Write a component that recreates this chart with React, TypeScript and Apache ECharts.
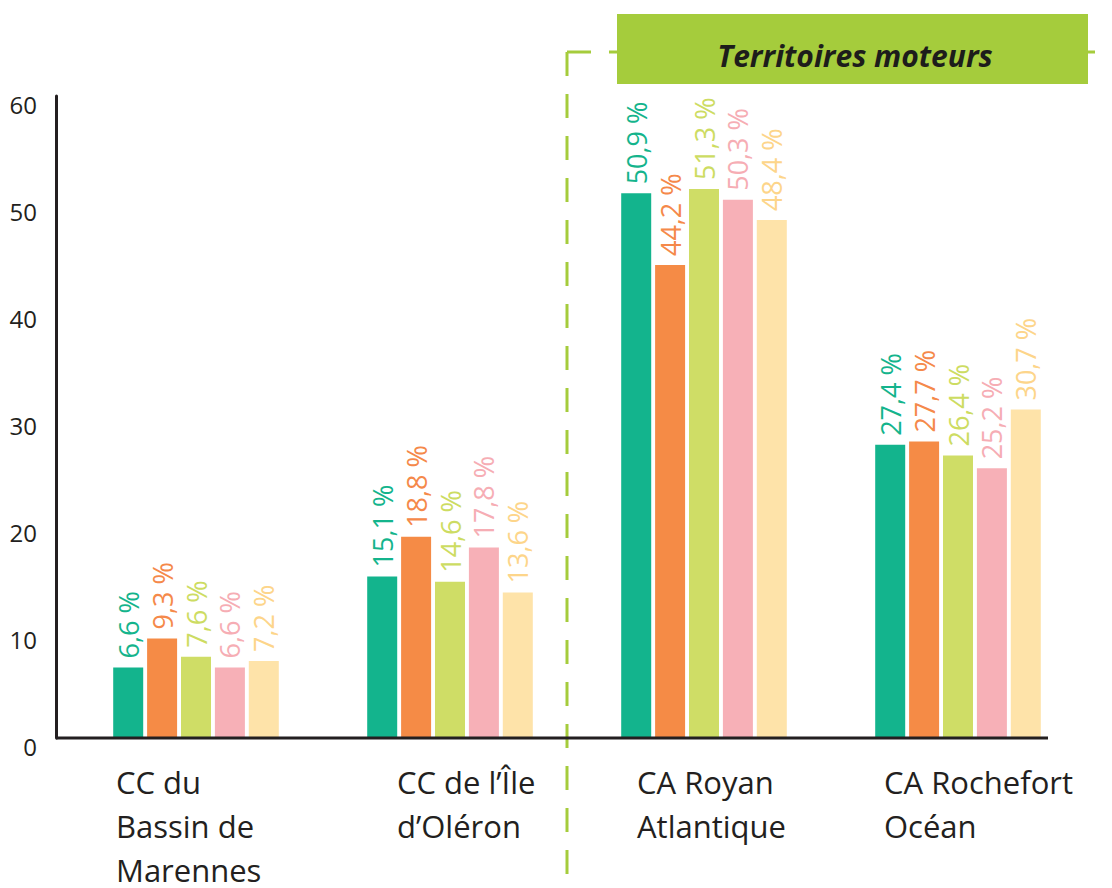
import React, { useEffect, useRef } from "react";
import * as echarts from "echarts";

const categories = [
  "CC du\nBassin de\nMarennes",
  "CC de l’Île\nd’Oléron",
  "CA Royan\nAtlantique",
  "CA Rochefort\nOcéan",
];
const series1 = [6.6, 15.1, 50.9, 27.4];
const series2 = [9.3, 18.8, 44.2, 27.7];
const series3 = [7.6, 14.6, 51.3, 26.4];
const series4 = [6.6, 17.8, 50.3, 25.2];
const series5 = [7.2, 13.6, 48.4, 30.7];
const barColors = ["#13b48d", "#f58b46", "#cfdd66", "#f7b0b7", "#fee3a9"];
const labelColors = ["#14b48c", "#f5894a", "#cddc62", "#f6adb4", "#fdd58a"];
const labelX = [116, 397, 637, 884];
const bannerText = "Territoires moteurs";

const FONT = "'Open Sans', 'Noto Sans', sans-serif";

export default function App() {
  const ref = useRef<HTMLDivElement>(null);
  useEffect(() => {
    if (!ref.current) return;
    const chart = echarts.init(ref.current, null, { renderer: "svg" });
    const all = [series1, series2, series3, series4, series5];
    const green = "#a5cc3c";
    chart.setOption({
      animation: false,
      grid: { left: 69, right: 27, top: 96, bottom: 150 },
      xAxis: {
        type: "category",
        data: categories,
        axisLine: { show: false },
        axisTick: { show: false },
        axisLabel: { show: false },
      },
      yAxis: {
        type: "value",
        min: 0,
        max: 60,
        interval: 10,
        offset: 13,
        splitLine: { show: false },
        axisTick: { show: false },
        axisLine: { show: true, lineStyle: { color: "#231f20", width: 3 } },
        axisLabel: {
          color: "#231f20",
          fontSize: 24,
          fontFamily: FONT,
          margin: 19,
          verticalAlign: "top",
          lineHeight: 16,
        },
      },
      series: all.map((d, i) => ({
        type: "bar",
        name: "S" + (i + 1),
        data: d,
        barWidth: 30,
        barGap: "13%",
        itemStyle: { color: barColors[i] },
        label: {
          show: true,
          position: "top",
          rotate: 90,
          align: "left",
          verticalAlign: "middle",
          distance: 9,
          color: labelColors[i],
          fontSize: 27,
          fontFamily: FONT,
          formatter: (p: any) => String(p.value).replace(".", ",") + " %",
        },
      })),
      graphic: [
        {
          type: "line",
          z: 1,
          shape: { x1: 567, y1: 52, x2: 567, y2: 888 },
          style: { stroke: green, lineWidth: 3, lineDash: [24, 18] },
        },
        {
          type: "line",
          z: 1,
          shape: { x1: 567, y1: 52, x2: 1112, y2: 52 },
          style: { stroke: green, lineWidth: 3, lineDash: [24, 18] },
        },
        {
          type: "rect",
          z: 2,
          shape: { x: 617, y: 14, width: 471, height: 70 },
          style: { fill: green },
        },
        {
          type: "text",
          z: 3,
          x: 855,
          y: 55,
          style: {
            text: bannerText,
            fill: "#1d1d1b",
            font: "italic bold 30px " + FONT,
            align: "center",
            verticalAlign: "middle",
          },
        },
        {
          type: "line",
          z: 10,
          shape: { x1: 56, y1: 738, x2: 1048, y2: 738 },
          style: { stroke: "#231f20", lineWidth: 3 },
        },
        ...categories.map((c, i) => ({
          type: "text",
          x: labelX[i],
          y: 760,
          style: {
            text: c,
            fill: "#231f20",
            font: "31px " + FONT,
            lineHeight: 44,
            align: "left",
            verticalAlign: "top",
          },
        })),
      ],
    });
    return () => chart.dispose();
  }, []);
  return (
    <div
      ref={ref}
      style={{ position: "fixed", left: 0, top: 0, width: 1112, height: 888, background: "#fff" }}
    />
  );
}
